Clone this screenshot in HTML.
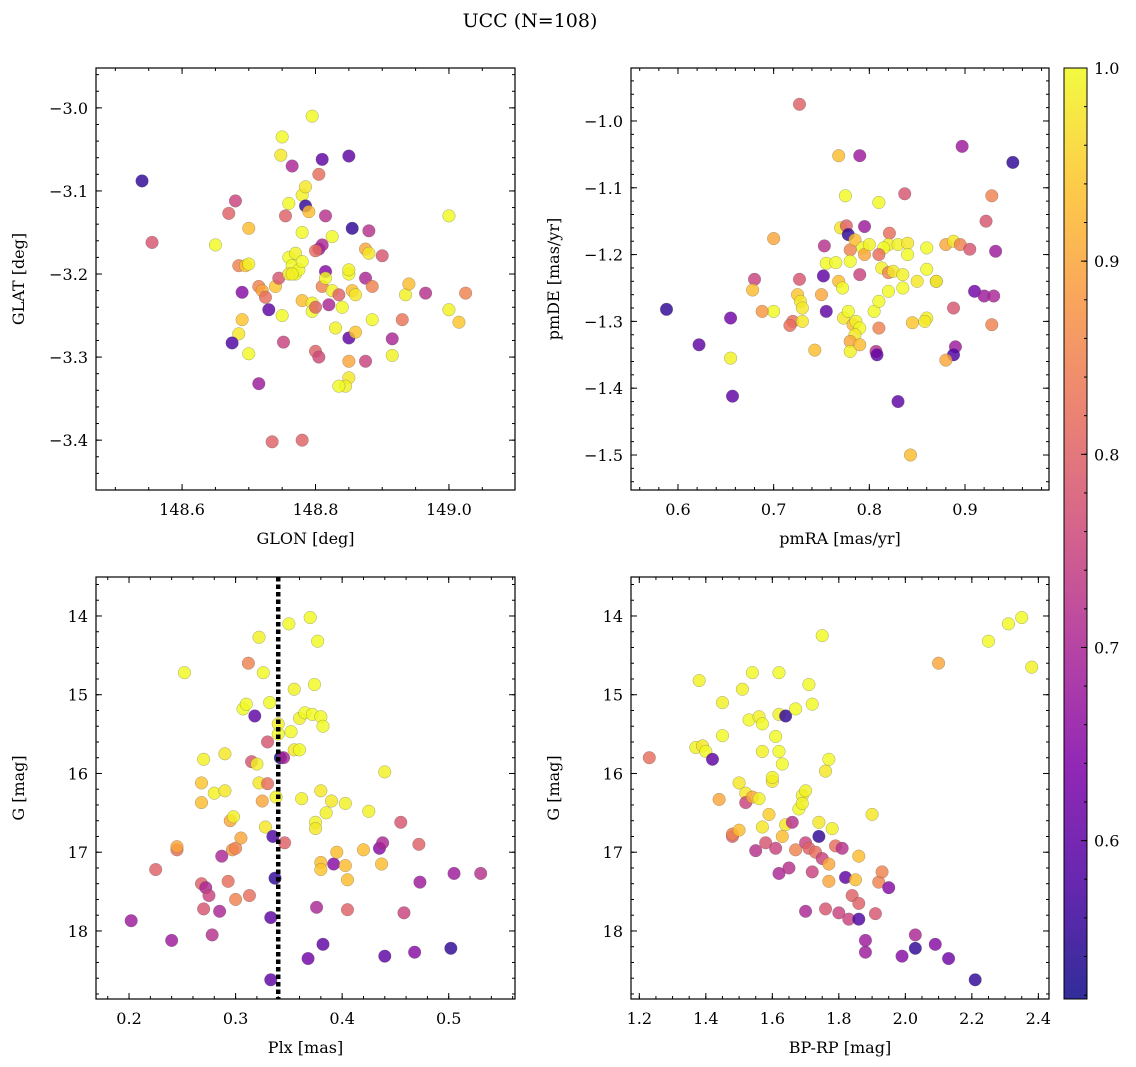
<!DOCTYPE html>
<html><head><meta charset="utf-8"><style>
html,body{margin:0;padding:0;background:#fff;}
svg{display:block;font-family:"DejaVu Serif","Liberation Serif",serif;}
</style></head><body>
<svg id="fig" width="1136" height="1067" xmlns="http://www.w3.org/2000/svg">
<defs><linearGradient id="plasma" x1="0" y1="1" x2="0" y2="0">
<stop offset="0" stop-color="#0d0887"/><stop offset="0.125" stop-color="#4c02a1"/><stop offset="0.25" stop-color="#7e03a8"/><stop offset="0.375" stop-color="#a92395"/><stop offset="0.5" stop-color="#cc4778"/><stop offset="0.625" stop-color="#e66c5c"/><stop offset="0.75" stop-color="#f89540"/><stop offset="0.875" stop-color="#fdc328"/><stop offset="1" stop-color="#f0f921"/>
</linearGradient></defs>
<text x="530" y="27" font-size="19" text-anchor="middle">UCC (N=108)</text>
</svg>
<script>
const tlX=[148.54,148.555,148.65,148.68,148.67,148.70,148.685,148.695,148.70,148.69,148.69,148.685,148.675,148.70,148.715,148.715,148.72,148.725,148.73,148.74,148.745,148.75,148.752,148.735,148.78,148.75,148.748,148.765,148.755,148.76,148.78,148.785,148.785,148.795,148.81,148.805,148.85,148.855,148.815,148.79,148.78,148.76,148.77,148.765,148.77,148.76,148.775,148.78,148.805,148.81,148.8,148.825,148.815,148.78,148.795,148.795,148.80,148.81,148.815,148.825,148.835,148.82,148.83,148.84,148.85,148.85,148.855,148.86,148.85,148.86,148.85,148.85,148.845,148.835,148.8,148.805,148.875,148.875,148.88,148.88,148.885,148.885,148.875,148.90,148.915,148.915,148.93,148.935,148.94,148.965,149.0,149.0,149.015,149.025,148.765];
const tlY=[-3.088,-3.162,-3.165,-3.112,-3.127,-3.145,-3.19,-3.19,-3.188,-3.222,-3.255,-3.272,-3.283,-3.296,-3.332,-3.215,-3.22,-3.228,-3.243,-3.215,-3.205,-3.25,-3.282,-3.402,-3.4,-3.035,-3.057,-3.07,-3.13,-3.115,-3.105,-3.095,-3.118,-3.01,-3.062,-3.08,-3.058,-3.145,-3.13,-3.125,-3.15,-3.18,-3.175,-3.19,-3.2,-3.2,-3.195,-3.185,-3.17,-3.165,-3.172,-3.155,-3.197,-3.232,-3.235,-3.245,-3.24,-3.215,-3.205,-3.22,-3.225,-3.237,-3.265,-3.24,-3.2,-3.195,-3.22,-3.225,-3.277,-3.27,-3.305,-3.325,-3.335,-3.335,-3.293,-3.3,-3.205,-3.17,-3.148,-3.175,-3.215,-3.255,-3.305,-3.178,-3.278,-3.298,-3.255,-3.225,-3.212,-3.223,-3.13,-3.243,-3.258,-3.223,-3.2];
const tlP=[0.55,0.78,1.0,0.75,0.8,0.93,0.85,0.94,0.99,0.65,0.94,0.98,0.58,1.0,0.68,0.85,0.9,0.82,0.6,0.94,0.78,1.0,0.75,0.8,0.8,1.0,0.98,0.7,0.8,1.0,0.99,0.98,0.55,1.0,0.6,0.82,0.6,0.55,0.72,0.93,1.0,1.0,0.99,1.0,1.0,0.98,1.0,1.0,0.68,0.7,0.82,1.0,0.65,0.93,0.99,1.0,0.8,0.85,1.0,0.99,0.8,0.7,0.99,1.0,1.0,0.99,0.93,0.98,0.6,0.94,0.9,0.98,0.99,1.0,0.8,0.76,0.7,0.9,0.72,0.98,0.85,1.0,0.75,0.78,0.7,0.99,0.83,0.99,0.93,0.72,1.0,0.99,0.94,0.85,0.99];

const trX=[0.727,0.768,0.79,0.897,0.95,0.775,0.81,0.837,0.928,0.7,0.77,0.776,0.778,0.795,0.821,0.82,0.815,0.83,0.84,0.86,0.88,0.888,0.895,0.905,0.922,0.932,0.753,0.78,0.785,0.793,0.795,0.8,0.79,0.81,0.813,0.82,0.825,0.835,0.84,0.86,0.85,0.87,0.755,0.765,0.78,0.752,0.768,0.772,0.68,0.678,0.727,0.725,0.728,0.73,0.75,0.7,0.688,0.72,0.717,0.73,0.655,0.755,0.773,0.778,0.783,0.786,0.79,0.785,0.78,0.78,0.79,0.805,0.81,0.81,0.82,0.835,0.807,0.808,0.845,0.86,0.858,0.87,0.888,0.91,0.92,0.93,0.928,0.89,0.888,0.88,0.743,0.655,0.588,0.622,0.657,0.83,0.843];
const trY=[-0.975,-1.052,-1.052,-1.038,-1.062,-1.112,-1.122,-1.109,-1.112,-1.176,-1.16,-1.157,-1.17,-1.158,-1.168,-1.185,-1.19,-1.185,-1.183,-1.19,-1.185,-1.18,-1.185,-1.192,-1.15,-1.195,-1.187,-1.193,-1.178,-1.19,-1.2,-1.185,-1.23,-1.2,-1.22,-1.227,-1.225,-1.23,-1.2,-1.222,-1.24,-1.24,-1.213,-1.212,-1.21,-1.232,-1.24,-1.25,-1.237,-1.253,-1.237,-1.26,-1.27,-1.28,-1.26,-1.285,-1.285,-1.3,-1.306,-1.3,-1.295,-1.285,-1.295,-1.285,-1.305,-1.3,-1.31,-1.32,-1.33,-1.345,-1.335,-1.285,-1.27,-1.31,-1.255,-1.25,-1.345,-1.35,-1.302,-1.295,-1.3,-1.24,-1.28,-1.255,-1.262,-1.262,-1.305,-1.338,-1.35,-1.358,-1.343,-1.355,-1.282,-1.335,-1.412,-1.42,-1.5];
const trP=[0.8,0.93,0.68,0.68,0.55,1.0,1.0,0.78,0.85,0.9,0.98,0.8,0.55,0.68,0.82,0.99,1.0,0.99,0.98,1.0,0.9,0.98,0.85,0.78,0.78,0.68,0.72,0.85,0.93,1.0,0.9,0.99,0.75,0.82,0.99,0.85,0.98,0.99,1.0,1.0,0.98,0.8,1.0,1.0,1.0,0.6,0.93,1.0,0.75,0.93,0.78,0.94,0.98,0.98,0.9,1.0,0.88,0.82,0.82,0.98,0.62,0.6,0.98,1.0,0.93,0.99,1.0,0.98,0.9,0.99,0.93,1.0,1.0,0.85,1.0,1.0,0.72,0.6,0.94,0.99,0.98,1.0,0.78,0.62,0.68,0.7,0.85,0.68,0.58,0.9,0.93,0.99,0.55,0.6,0.6,0.6,0.93];

const blX=[0.252,0.202,0.225,0.24,0.245,0.245,0.268,0.268,0.27,0.268,0.27,0.272,0.275,0.278,0.28,0.285,0.287,0.29,0.29,0.293,0.295,0.297,0.298,0.3,0.3,0.305,0.307,0.31,0.312,0.313,0.315,0.318,0.32,0.322,0.322,0.325,0.326,0.328,0.33,0.33,0.332,0.333,0.333,0.335,0.337,0.338,0.34,0.34,0.342,0.345,0.346,0.35,0.352,0.355,0.355,0.36,0.36,0.362,0.365,0.368,0.37,0.372,0.374,0.375,0.375,0.376,0.377,0.38,0.38,0.38,0.38,0.382,0.382,0.385,0.39,0.392,0.395,0.403,0.403,0.405,0.405,0.42,0.425,0.435,0.437,0.438,0.44,0.44,0.455,0.458,0.468,0.472,0.473,0.502,0.505,0.53];
const blY=[14.72,17.87,17.22,18.12,16.97,16.93,16.12,16.37,15.82,17.4,17.72,17.45,17.55,18.05,16.25,17.75,17.05,15.75,16.22,17.37,16.6,16.97,16.55,16.95,17.6,16.82,15.18,15.12,14.6,17.55,15.85,15.27,15.88,14.27,16.12,16.35,14.72,16.68,16.13,15.6,15.1,18.62,17.83,16.8,17.33,16.3,15.5,15.37,15.8,15.8,16.88,14.1,15.47,14.93,15.7,15.3,15.7,16.32,15.23,18.35,14.02,15.25,14.87,16.62,16.7,17.7,14.32,16.22,17.13,17.22,15.28,15.4,18.17,16.5,16.35,17.15,17.0,16.38,17.17,17.35,17.73,16.97,16.48,16.95,17.15,16.88,15.98,18.32,16.62,17.77,18.27,16.9,17.38,18.22,17.27,17.27];
const blP=[1.0,0.68,0.8,0.68,0.82,0.9,0.94,0.93,0.99,0.8,0.78,0.7,0.75,0.72,0.99,0.7,0.7,0.98,0.98,0.82,0.9,0.88,0.99,0.85,0.85,0.9,1.0,1.0,0.85,0.82,0.78,0.6,0.99,0.99,0.98,0.9,1.0,0.98,0.82,0.78,1.0,0.6,0.6,0.58,0.55,0.99,1.0,0.99,0.52,0.7,0.8,1.0,1.0,0.99,0.98,0.99,1.0,0.99,1.0,0.62,1.0,1.0,1.0,0.99,0.98,0.7,1.0,0.98,0.93,0.94,1.0,1.0,0.6,0.99,0.98,0.65,0.93,0.99,0.93,0.93,0.8,0.93,0.99,0.65,0.93,0.7,0.99,0.6,0.78,0.75,0.65,0.8,0.68,0.55,0.68,0.72];

const brX=[1.23,1.38,1.37,1.39,1.4,1.42,1.44,1.45,1.45,1.48,1.48,1.5,1.5,1.51,1.52,1.52,1.53,1.54,1.54,1.55,1.56,1.56,1.57,1.57,1.57,1.58,1.59,1.6,1.6,1.61,1.61,1.62,1.62,1.62,1.62,1.63,1.63,1.64,1.64,1.65,1.66,1.67,1.67,1.68,1.69,1.69,1.7,1.7,1.7,1.71,1.71,1.72,1.72,1.73,1.74,1.74,1.75,1.75,1.76,1.76,1.77,1.77,1.77,1.78,1.79,1.8,1.81,1.82,1.83,1.84,1.85,1.86,1.86,1.86,1.88,1.88,1.9,1.91,1.92,1.93,1.95,1.99,2.03,2.03,2.09,2.1,2.13,2.21,2.25,2.31,2.35,2.38];
const brY=[15.8,14.82,15.67,15.65,15.72,15.82,16.33,15.1,15.52,16.8,16.77,16.12,16.72,14.93,16.25,16.37,15.32,16.3,14.72,16.98,15.28,16.32,15.37,16.68,15.72,16.88,16.52,16.1,16.05,16.95,15.53,15.25,17.27,14.72,15.72,15.88,16.8,15.27,16.65,17.2,16.62,15.18,16.97,16.45,16.28,16.38,16.22,17.75,16.88,14.87,16.95,15.12,17.25,17.0,16.62,16.8,14.25,17.08,15.97,17.72,15.82,17.15,17.37,16.7,16.92,17.77,16.95,17.32,17.85,17.55,17.35,17.65,17.05,17.85,18.12,18.27,16.52,17.78,17.38,17.25,17.45,18.32,18.05,18.22,18.17,14.6,18.35,18.62,14.32,14.1,14.02,14.65];
const brP=[0.82,0.99,0.99,0.98,1.0,0.6,0.9,0.99,1.0,0.8,0.85,0.98,0.93,0.99,0.98,0.75,1.0,0.9,1.0,0.72,0.99,0.99,1.0,0.98,0.99,0.78,0.95,0.98,0.99,0.75,1.0,0.99,0.7,1.0,1.0,1.0,0.93,0.55,0.98,0.72,0.72,1.0,0.85,1.0,0.99,0.99,0.99,0.7,0.75,1.0,0.8,1.0,0.75,0.82,0.98,0.55,1.0,0.75,0.98,0.78,1.0,0.9,0.9,0.99,0.82,0.75,0.72,0.6,0.75,0.8,0.93,0.8,0.93,0.58,0.68,0.68,0.98,0.78,0.85,0.85,0.65,0.65,0.7,0.55,0.65,0.9,0.62,0.55,1.0,1.0,1.0,0.99];

const plxLine=0.34;
const cMin=0.518, cMax=1.0;
const cbTicks=[0.6,0.7,0.8,0.9,1.0];

const NS="http://www.w3.org/2000/svg";
const fig=document.getElementById('fig');
const stops=[[13,8,135],[76,2,161],[126,3,168],[169,35,149],[204,71,120],[230,108,92],[248,149,64],[253,195,40],[240,249,33]];
function plasma(v){let t=(v-cMin)/(cMax-cMin);t=Math.max(0,Math.min(1,t))*8;const i=Math.min(7,Math.floor(t)),f=t-i;const a=stops[i],b=stops[i+1];return `rgb(${a.map((x,k)=>Math.round(x+(b[k]-x)*f)).join(',')})`;}
function el(tag,attrs,parent){const e=document.createElementNS(NS,tag);for(const k in attrs)e.setAttribute(k,attrs[k]);(parent||fig).appendChild(e);return e;}
function fmt(v,d){return (v<0?'\u2212':'')+Math.abs(v).toFixed(d);}

function panel(name,L,T,R,B,xmin,xmax,ymin,ymax,yinv,xs,ys,ps,xMaj,xMin,xd,yMaj,yMin,yd,xlab,ylab){
  const g=el('g',{});
  
  
  const sx=v=>L+(v-xmin)/(xmax-xmin)*(R-L);
  const sy=yinv?(v=>T+(v-ymin)/(ymax-ymin)*(B-T)):(v=>B-(v-ymin)/(ymax-ymin)*(B-T));
  for(let i=0;i<xs.length;i++){
    const c=el('circle',{cx:sx(xs[i]),cy:sy(ys[i]),r:6.3,fill:plasma(ps[i]),'fill-opacity':0.82,stroke:'#555','stroke-opacity':0.5,'stroke-width':0.5},g);
    
    
  }
  const tk=el('g',{stroke:'#000','stroke-width':1},g);
  const ticks=(step,lo,hi)=>{const a=[];for(let v=Math.ceil(lo/step-1e-6)*step;v<=hi+1e-9;v+=step)a.push(Math.round(v/step)*step);return a;};
  ticks(xMin,xmin,xmax).forEach(v=>{const x=sx(v);el('line',{x1:x,x2:x,y1:B,y2:B-3},tk);el('line',{x1:x,x2:x,y1:T,y2:T+3},tk);});
  ticks(yMin,Math.min(ymin,ymax),Math.max(ymin,ymax)).forEach(v=>{const y=sy(v);el('line',{x1:L,x2:L+3,y1:y,y2:y},tk);el('line',{x1:R,x2:R-3,y1:y,y2:y},tk);});
  ticks(xMaj,xmin,xmax).forEach(v=>{const x=sx(v);el('line',{x1:x,x2:x,y1:B,y2:B-6},tk);el('line',{x1:x,x2:x,y1:T,y2:T+6},tk);
    const t=el('text',{x:x,y:B+25,'font-size':16,'text-anchor':'middle'},g);t.textContent=fmt(v,xd);
    });
  ticks(yMaj,Math.min(ymin,ymax),Math.max(ymin,ymax)).forEach(v=>{const y=sy(v);el('line',{x1:L,x2:L+6,y1:y,y2:y},tk);el('line',{x1:R,x2:R-6,y1:y,y2:y},tk);
    const t=el('text',{x:L-8,y:y+6,'font-size':16,'text-anchor':'end'},g);t.textContent=fmt(v,yd);
    });
  el('rect',{x:L,y:T,width:R-L,height:B-T,fill:'none',stroke:'#000','stroke-width':1.2},g);
  const xl=el('text',{x:(L+R)/2,y:B+54,'font-size':16,'text-anchor':'middle'},g);xl.textContent=xlab;
  
  const yx=L-72, yy=(T+B)/2;
  const yl=el('text',{x:yx,y:yy,'font-size':16,'text-anchor':'middle',transform:`rotate(-90 ${yx} ${yy})`},g);yl.textContent=ylab;
  
  return {sx,sy,g};
}
panel('glon-glat-panel',96,68,515,490,148.471,149.099,-3.460,-2.952,false,tlX,tlY,tlP,0.2,0.05,1,0.1,0.02,1,'GLON [deg]','GLAT [deg]');
panel('pm-panel',631,68,1049,490,0.5509,0.9878,-1.5524,-0.9207,false,trX,trY,trP,0.1,0.02,1,0.1,0.02,1,'pmRA [mas/yr]','pmDE [mas/yr]');
const bl=panel('plx-g-panel',96,577,515,999,0.169,0.5622,13.505,18.864,true,blX,blY,blP,0.1,0.02,1,1,0.2,0,'Plx [mas]','G [mag]');
const vl=el('line',{x1:bl.sx(plxLine),x2:bl.sx(plxLine),y1:577,y2:999,stroke:'#000','stroke-width':4.5,'stroke-dasharray':'4.5 3'},bl.g);


panel('cmd-panel',631,577,1049,999,1.175,2.432,13.505,18.864,true,brX,brY,brP,0.2,0.05,1,1,0.2,0,'BP-RP [mag]','G [mag]');

const cb=el('g',{});


el('rect',{x:1064,y:68,width:23,height:931,fill:'url(#plasma)','fill-opacity':0.85},cb);
el('rect',{x:1064,y:68,width:23,height:931,fill:'none',stroke:'#000','stroke-width':1},cb);
const cy=v=>999-(v-cMin)/(cMax-cMin)*931;
for(let v=0.52;v<=1.0001;v+=0.02){const y=cy(v);el('line',{x1:1087,x2:1084,y1:y,y2:y,stroke:'#000'},cb);}
cbTicks.forEach(v=>{const y=cy(v);el('line',{x1:1087,x2:1081,y1:y,y2:y,stroke:'#000'},cb);
  const t=el('text',{x:1094,y:y+6,'font-size':16},cb);t.textContent=v.toFixed(1);
  });
</script>
</body></html>
